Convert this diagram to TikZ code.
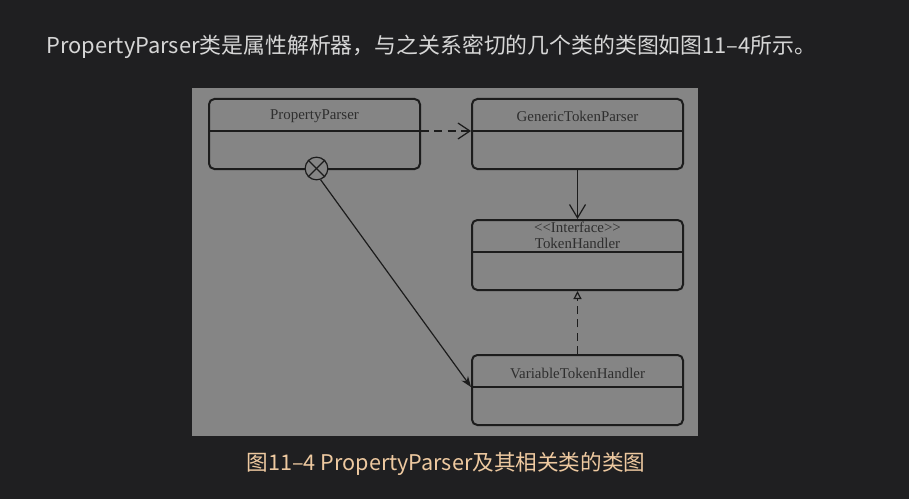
\documentclass[tikz,border=0pt]{standalone}
\usepackage{fontspec}
\setmainfont{Liberation Serif}
\newfontfamily\cjkfont{Noto Sans CJK SC}
\usetikzlibrary{arrows.meta, calc}
\definecolor{pagebg}{HTML}{1F1F21}
\definecolor{panelgray}{HTML}{858585}
\definecolor{inkgray}{HTML}{1C1C1C}
\definecolor{namegray}{HTML}{2E2E2E}
\definecolor{titlegray}{HTML}{D6D6D6}
\definecolor{captiontan}{HTML}{EEC9A0}
\tikzset{
  classbox/.style={draw=inkgray, line width=1.5pt, rounded corners=4pt,
    minimum width=158.25pt, minimum height=52.5pt, inner sep=0pt},
  classname/.style={text=namegray, font=\fontsize{11.2}{12}\selectfont, inner sep=0pt},
  sepline/.style={draw=inkgray, line width=1.5pt},
  link/.style={draw=inkgray, line width=0.9pt},
  dashlink/.style={link, dash pattern=on 6pt off 4pt},
  titletext/.style={text=titlegray, font=\cjkfont\fontsize{16.4}{18}\selectfont, inner sep=0pt}
}
\begin{document}
\begin{tikzpicture}[x=0.75pt, y=-0.75pt]

	% page and panel
	\fill[pagebg] (0,0) rectangle (909,499);
	\useasboundingbox (0,0) rectangle (909,499);
	\fill[panelgray] (192,88) rectangle (698,436);

	\node[titletext, anchor=west] (title) at (46,47) {PropertyParser类是属性解析器，与之关系密切的几个类的类图如图11–4所示。};
	\node[titletext, text=captiontan, font=\cjkfont\fontsize{16.2}{18}\selectfont] (caption) at (446,464) {图11–4 PropertyParser及其相关类的类图};

	% classes
	\node[classbox] (pp) at (314.5,134) {};
	\node[classbox] (gtp) at (577.5,134) {};
	\node[classbox] (th) at (577.5,255) {};
	\node[classbox] (vth) at (577.5,390) {};

	\foreach \c in {pp, gtp, th, vth} {
		\coordinate (\c sepw) at ($ (\c.north west)+(0,33) $);
		\coordinate (\c sepe) at ($ (\c.north east)+(0,33) $);
		\draw[sepline] (\c sepw) -- (\c sepe);
	}

	\node[classname] (ppname) at ($ (pp.north)+(0,18) $) {PropertyParser};
	\node[classname] (gtpname) at ($ (gtp.north)+(0,18) $) {GenericTokenParser};
	\node[classname] (thstereo) at ($ (th.north)+(0,8.5) $) {{<}{<}Interface{>}{>}};
	\node[classname] (thname) at ($ (th.north)+(0,24) $) {TokenHandler};
	\node[classname] (vthname) at ($ (vth.north)+(0,19) $) {VariableTokenHandler};

	% nesting mark
	\node[circle, draw=inkgray, fill=panelgray, line width=0.9pt, minimum size=17pt, inner sep=0pt] (nest) at (316.5,168.5) {};
	\draw[link] (nest.45) -- (nest.225);
	\draw[link] (nest.135) -- (nest.315);

	% relations
	\draw[dashlink, -{Straight Barb[length=9pt, width=12pt]}] (ppsepe) -- (gtpsepw);
	\draw[link, -{Straight Barb[length=10pt, width=12pt]}] (gtp.south) -- (th.north);
	\draw[dashlink, -{Triangle[open, length=6pt, width=6pt]}] (vth.north) -- (th.south);
	\draw[link, -{Stealth[length=8pt, width=6pt]}] (nest.-70) -- (vthsepw);

\end{tikzpicture}
\end{document}
